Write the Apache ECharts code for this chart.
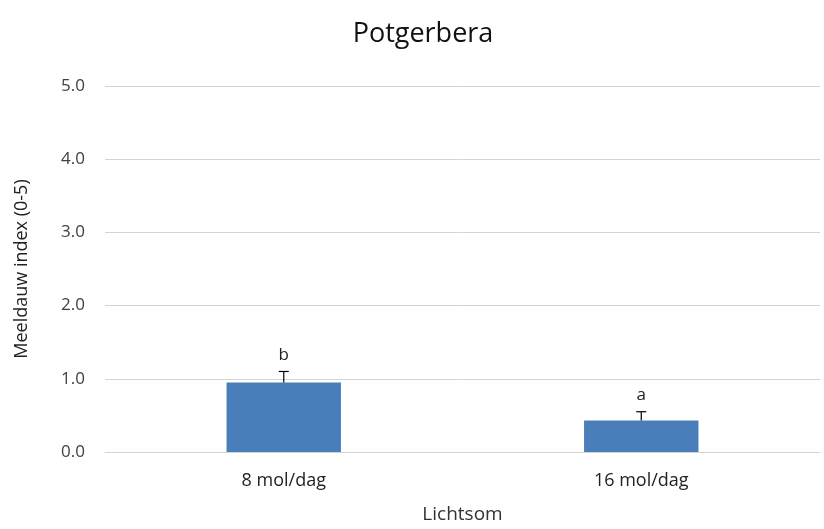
<!DOCTYPE html>
<html><head><meta charset="utf-8">
<script src="https://cdn.jsdelivr.net/npm/echarts@6/dist/echarts.min.js"></script>
<style>html,body{margin:0;padding:0;background:#fff}#c{width:824px;height:529px}</style>
</head><body><div id="c"></div>
<script>
const categories = ['8 mol/dag', '16 mol/dag'];
const means = [0.95, 0.43];
const errors = [0.15, 0.12];
const letters = ['b', 'a'];
const yTicks = [0, 1, 2, 3, 4, 5];

const FONT = '"Open Sans"';
const chart = echarts.init(document.getElementById('c'));
chart.setOption({
  animation: false,
  title: {text: 'Potgerbera', left: 418, top: 16, textAlign: 'center',
    textStyle: {fontFamily: FONT, fontSize: 27, fontWeight: 'normal', color: '#111'}},
  grid: {left: 105, right: 4, top: 86, bottom: 74},
  xAxis: {type: 'category', data: categories,
    name: 'Lichtsom', nameLocation: 'middle', nameGap: 53,
    nameTextStyle: {fontFamily: FONT, fontSize: 19, color: '#333'},
    axisLine: {lineStyle: {color: '#d4d4d4', width: 1}}, axisTick: {show: false},
    axisLabel: {fontFamily: FONT, fontSize: 18, color: '#222', margin: 20}},
  yAxis: {type: 'value', min: 0, max: 5, interval: 1,
    name: 'Meeldauw index (0-5)', nameLocation: 'middle', nameGap: 74,
    nameTextStyle: {fontFamily: FONT, fontSize: 18, color: '#222'},
    axisLine: {show: false}, axisTick: {show: false},
    axisLabel: {fontFamily: FONT, fontSize: 17, color: '#404040', margin: 20,
      formatter: v => yTicks.includes(v) ? v.toFixed(1) : ''},
    splitLine: {lineStyle: {color: '#d4d4d4', width: 1}}},
  series: [
    {type: 'bar', data: means, barWidth: '32%', itemStyle: {color: '#4a7ebb'}, z: 2},
    {type: 'custom', z: 3,
      data: means.map((m, i) => [i, m, m + errors[i], letters[i]]),
      renderItem: (params, api) => {
        const x = api.coord([api.value(0), api.value(1)])[0];
        const y0 = api.coord([api.value(0), api.value(1)])[1];
        const y1 = api.coord([api.value(0), api.value(2)])[1];
        const st = {stroke: '#000', lineWidth: 1.2};
        return {type: 'group', children: [
          {type: 'line', shape: {x1: x, y1: y0, x2: x, y2: y1}, style: st},
          {type: 'line', shape: {x1: x - 5, y1: y1, x2: x + 5, y2: y1}, style: st},
          {type: 'text', style: {text: api.value(3), x: x, y: y1 - 8, align: 'center', verticalAlign: 'bottom',
            font: '17px ' + FONT, fill: '#222'}}
        ]};
      }}
  ]
});
</script></body></html>
